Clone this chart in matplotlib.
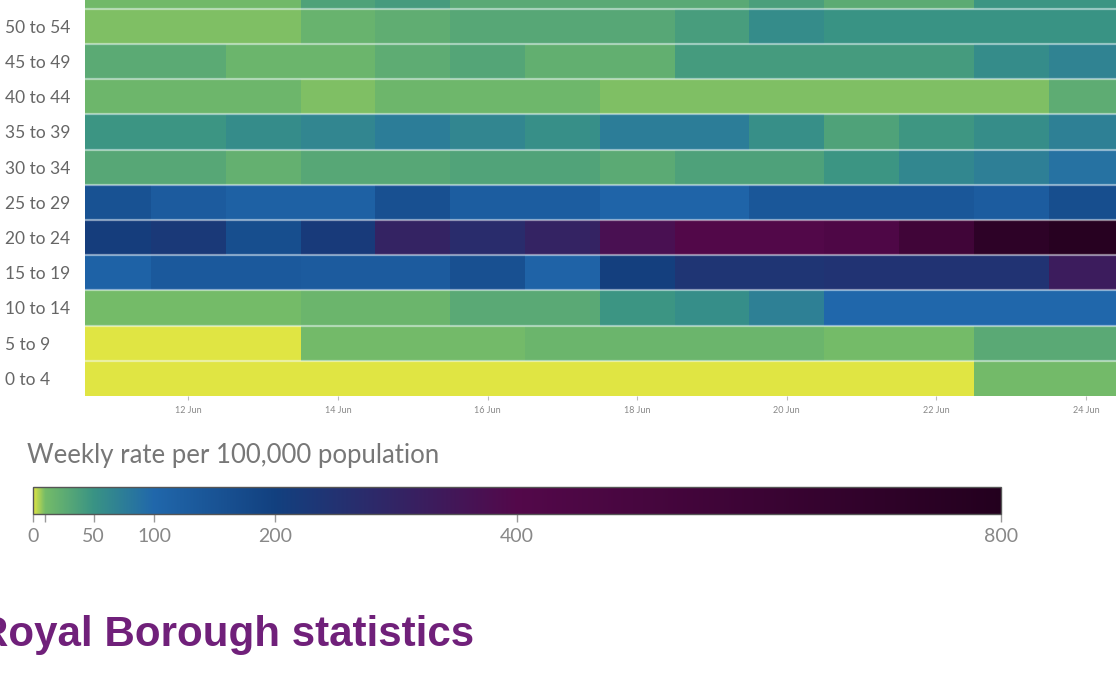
import pandas as pd
import matplotlib
matplotlib.use("Agg")
import matplotlib.pyplot as plt
import matplotlib.dates as mdates
from matplotlib.colors import LinearSegmentedColormap, Normalize

plt.rcParams['font.family'] = ['Lato', 'DejaVu Sans']

# age bands, bottom row first (the top one is cut off in the screenshot)
ages = ["0 to 4", "5 to 9", "10 to 14", "15 to 19", "20 to 24", "25 to 29",
        "30 to 34", "35 to 39", "40 to 44", "45 to 49", "50 to 54", "55 to 59"]
dates = pd.date_range("2021-06-11", "2021-06-24", freq="D")

# weekly rate per 100,000, one value per day (11 Jun .. 24 Jun)
r_0_4 = [0, 0, 0, 0, 0, 0, 0, 0, 0, 0, 0, 0, 11, 11]
r_5_9 = [0, 0, 0, 11, 11, 11, 16, 16, 16, 16, 10, 10, 28, 28]
r_10_14 = [10, 10, 10, 16, 16, 28, 28, 48, 56, 72, 100, 100, 100, 100]
r_15_19 = [112, 135, 135, 130, 130, 160, 110, 205, 240, 240, 245, 245, 245, 330]
r_20_24 = [210, 225, 165, 220, 305, 270, 305, 370, 410, 410, 440, 560, 720, 770]
r_25_29 = [155, 130, 115, 115, 160, 125, 125, 108, 108, 140, 140, 140, 128, 165]
r_30_34 = [30, 30, 21, 30, 30, 34, 34, 27, 36, 36, 48, 64, 73, 88]
r_35_39 = [48, 48, 58, 65, 75, 65, 55, 75, 75, 55, 35, 47, 57, 72]
r_40_44 = [15, 15, 15, 9, 15, 14, 14, 9, 9, 9, 9, 9, 9, 25]
r_45_49 = [27, 27, 16, 16, 25, 32, 22, 22, 42, 42, 42, 42, 58, 68]
r_50_54 = [9, 9, 9, 18, 24, 30, 30, 30, 40, 58, 50, 50, 50, 50]
r_55_59 = [12, 12, 12, 35, 42, 28, 28, 28, 28, 38, 26, 26, 48, 48]

rates = [r_0_4, r_5_9, r_10_14, r_15_19, r_20_24, r_25_29,
         r_30_34, r_35_39, r_40_44, r_45_49, r_50_54, r_55_59]

# colour scale stops
stops = [0, 10, 50, 100, 200, 400, 800]
stop_colors = ['#e0e543', '#74bb68', '#399384', '#2067ab', '#12407f', '#53084a', '#23001e']
cmap = LinearSegmentedColormap.from_list(
    'rate', [(s / 800, c) for s, c in zip(stops, stop_colors)], N=4096)
norm = Normalize(0, 800)

W, H = 1116, 685
fig = plt.figure(figsize=(W / 100, H / 100), dpi=100)
ax = fig.add_axes([85 / W, (H - 396) / H, (W - 85) / W, 396 / H])

x_edges = mdates.date2num(pd.date_range("2021-06-10 12:00", periods=len(dates) + 1, freq="D"))
y_edges = [i - 0.5 for i in range(len(ages) + 1)]
mesh = ax.pcolormesh(x_edges, y_edges, rates, cmap=cmap, norm=norm)

day_px = 74.8
left = mdates.date2num(dates[0]) + 0.5 - 66 / day_px
ax.set_xlim(left, left + (W - 85) / day_px)
ax.set_ylim(-0.5, 10.75)

for k in range(len(ages) - 1):
    ax.axhline(k + 0.5, color='#f4fbff', alpha=0.5, lw=1.6)

for s in ax.spines.values():
    s.set_visible(False)

# only the fully visible rows get a label
ax.set_yticks(range(len(ages) - 1))
ax.set_yticklabels(ages[:-1])
ax.tick_params(axis='y', length=0, pad=80 * 0.72, labelsize=12.5, labelcolor='#666666')
for lbl in ax.get_yticklabels():
    lbl.set_ha('left')

ax.set_xticks(mdates.date2num(dates[1::2]))
ax.xaxis.set_major_formatter(mdates.DateFormatter('%d %b'))
ax.tick_params(axis='x', length=3, width=0.8, color='#bbbbbb', labelsize=6.5,
               labelcolor='#888888', pad=4)

# colour bar
cax = fig.add_axes([33 / W, (H - 514) / H, 968 / W, 27 / H])
cb = fig.colorbar(mesh, cax=cax, orientation='horizontal', ticks=stops)
cb.set_ticklabels(['0', '', '50', '100', '200', '400', '800'])
cb.outline.set_edgecolor('#555555')
cb.outline.set_linewidth(1)
cax.tick_params(length=6, width=1, color='#999999', labelsize=14,
                labelcolor='#888888', pad=4)

fig.text(27 / W, 1 - 455 / H, "Weekly rate per 100,000 population",
         fontsize=18.5, color='#777777', va='center', ha='left')

fig.text(-22 / W, 39 / H, "Royal Borough statistics", fontsize=30.3,
         fontweight='bold', color='#70207a', family='Liberation Sans',
         va='baseline', ha='left')

fig.savefig('out.png', dpi=100)
